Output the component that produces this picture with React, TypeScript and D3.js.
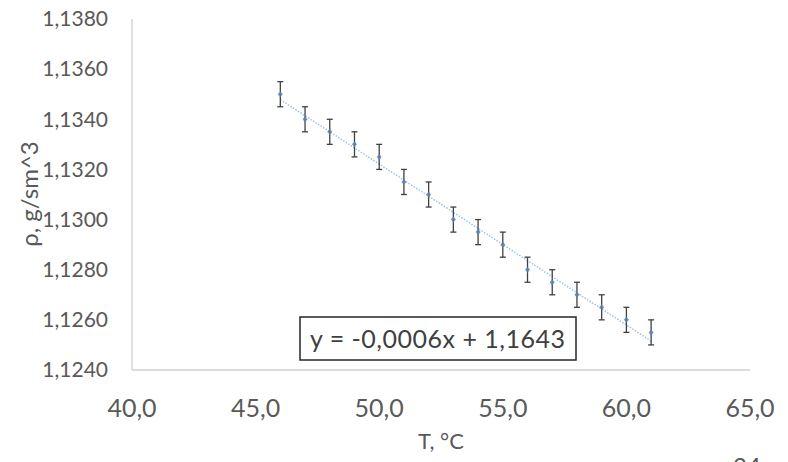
import React from "react";
import * as d3 from "d3";

const temps = [46, 47, 48, 49, 50, 51, 52, 53, 54, 55, 56, 57, 58, 59, 60, 61];
const densities = [1.135, 1.134, 1.1335, 1.133, 1.1325, 1.1315, 1.131, 1.13, 1.1295, 1.129, 1.128, 1.1275, 1.127, 1.1265, 1.126, 1.1255];
const errors = [0.0005, 0.0005, 0.0005, 0.0005, 0.0005, 0.0005, 0.0005, 0.0005, 0.0005, 0.0005, 0.0005, 0.0005, 0.0005, 0.0005, 0.0005, 0.0005];
const xTicks = [40, 45, 50, 55, 60, 65];
const yTicks = [1.124, 1.126, 1.128, 1.13, 1.132, 1.134, 1.136, 1.138];
const equationText = "y = -0,0006x + 1,1643";
const xTitle = "T, °C";
const yTitle = "ρ, g/sm^3";

export default function App() {
  const W = 788, H = 462;
  const x = d3.scaleLinear().domain([40, 65]).range([132, 750]);
  const y = d3.scaleLinear().domain([1.124, 1.138]).range([370, 19]);
  const fmtX = (v: number) => v.toFixed(1).replace(".", ",");
  const fmtY = (v: number) => v.toFixed(4).replace(".", ",");

  const mx = d3.mean(temps)!;
  const my = d3.mean(densities)!;
  let num = 0, den = 0;
  temps.forEach((t, i) => { num += (t - mx) * (densities[i] - my); den += (t - mx) ** 2; });
  const slope = num / den;
  const inter = my - slope * mx;
  const x0 = temps[0], x1 = temps[temps.length - 1];

  const font = "Lato, 'Open Sans', sans-serif";
  return (
    <svg width={W} height={H} style={{ position: "absolute", left: 0, top: 0, background: "#fff" }}>
      <rect x={0} y={0} width={W} height={H} fill="#fff" />
      <line x1={x(40)} x2={x(40)} y1={y(1.138)} y2={y(1.124)} stroke="#d0d0d0" strokeWidth={1.3} />
      <line x1={x(40)} x2={x(65)} y1={y(1.124)} y2={y(1.124)} stroke="#d0d0d0" strokeWidth={1.3} />
      {yTicks.map((t) => (
        <text key={t} x={108} y={y(t)} dy="0.35em" textAnchor="end" fontFamily={font} fontSize={21} fill="#595959">{fmtY(t)}</text>
      ))}
      {xTicks.map((t) => (
        <text key={t} x={x(t)} y={408} dy="0.35em" textAnchor="middle" fontFamily={font} fontSize={25} fill="#595959">{fmtX(t)}</text>
      ))}
      <text x={441} y={441} dy="0.35em" textAnchor="middle" fontFamily={font} fontSize={22} fill="#595959">{xTitle}</text>
      <text transform={`translate(30,194) rotate(-90)`} textAnchor="middle" dy="0.35em" fontFamily={font} fontSize={24} fill="#595959">{yTitle}</text>
      <line x1={x(x0)} y1={y(slope * x0 + inter)} x2={x(x1)} y2={y(slope * x1 + inter)} stroke="#9dc3e6" strokeWidth={1.5} strokeDasharray="1.5 1.5" />
      {temps.map((t, i) => {
        const cx = x(t), cy = y(densities[i]);
        const top = y(densities[i] + errors[i]), bot = y(densities[i] - errors[i]);
        return (
          <g key={t}>
            <line x1={cx} x2={cx} y1={top} y2={bot} stroke="#404040" strokeWidth={1.3} />
            <line x1={cx - 3} x2={cx + 3} y1={top} y2={top} stroke="#404040" strokeWidth={1.3} />
            <line x1={cx - 3} x2={cx + 3} y1={bot} y2={bot} stroke="#404040" strokeWidth={1.3} />
            <path d={`M${cx - 2.5},${cy} L${cx},${cy - 3} L${cx + 2.5},${cy} L${cx},${cy + 3} Z`} fill="#5b82b0" opacity={0.85} />
          </g>
        );
      })}
      <rect x={300} y={317} width={276} height={43} fill="#fff" stroke="#262626" strokeWidth={1.5} />
      <text x={310} y={339} dy="0.35em" fontFamily={font} fontSize={25} fill="#404040" textLength={255} lengthAdjust="spacing">{equationText}</text>
      <text x={733} y={475} textAnchor="start" fontFamily={font} fontSize={24} fill="#595959">24</text>
    </svg>
  );
}
